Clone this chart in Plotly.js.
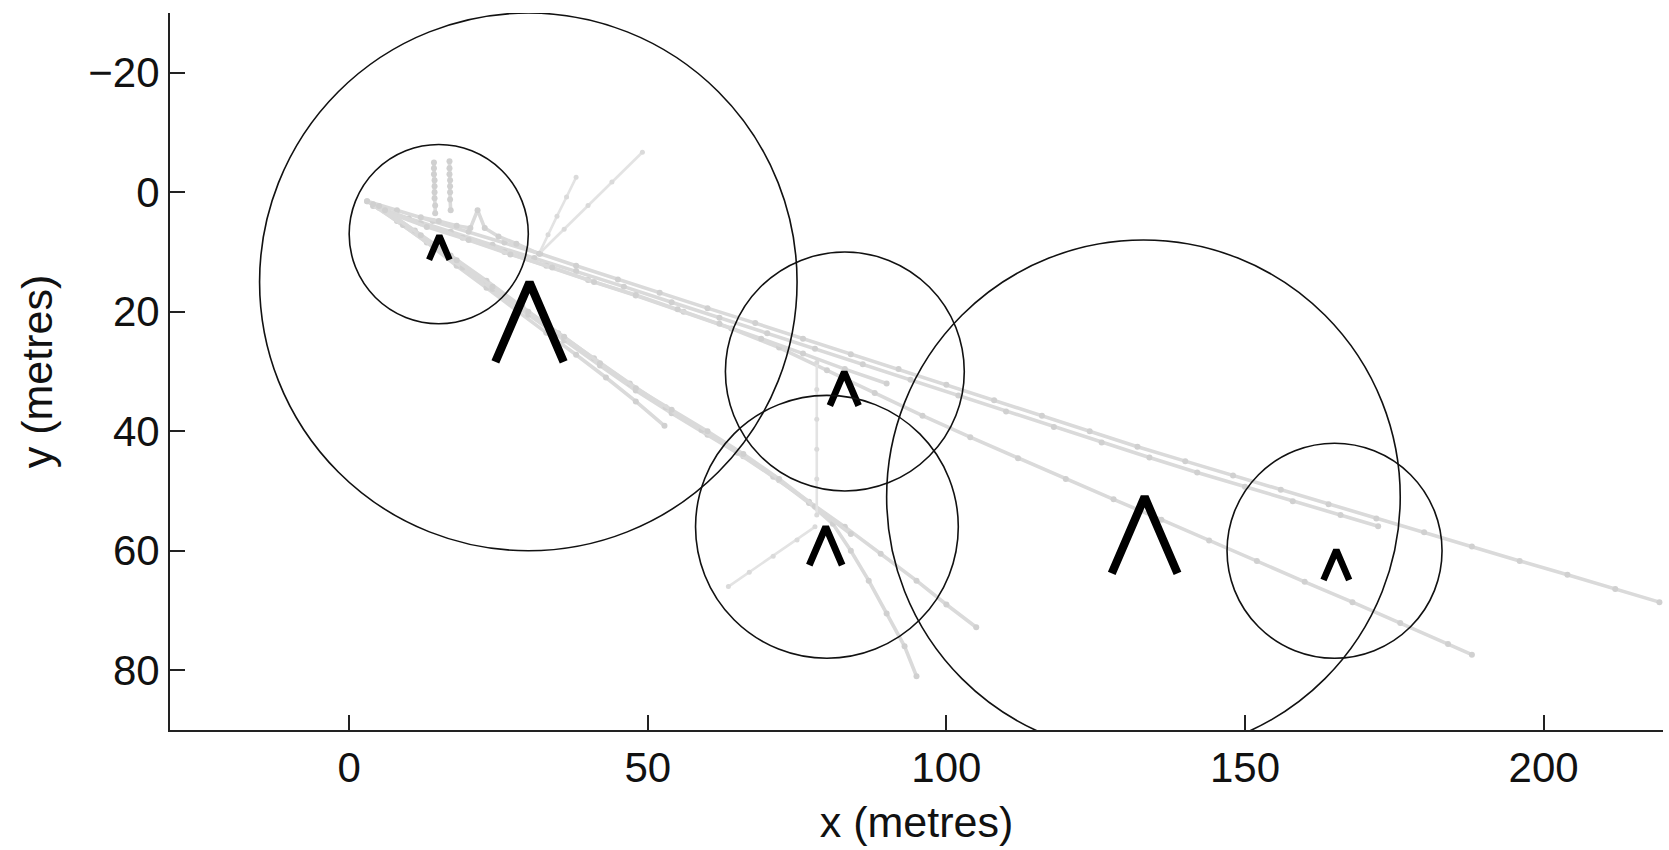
<!DOCTYPE html>
<html>
<head>
<meta charset="utf-8">
<script src="https://cdn.plot.ly/plotly-3.0.1.min.js"></script>
<style>html,body{margin:0;padding:0;background:#fff;}#chart{width:1669px;height:850px;}</style>
</head>
<body>
<div id="chart"></div>
<script>
// ---- axis ticks ----
const xTicks = [0, 50, 100, 150, 200];
const yTicks = [-20, 0, 20, 40, 60, 80];

// ---- circles (centre x, centre y, radius) in metres ----
const circleX = [30, 15, 83, 80, 133, 165];
const circleY = [15, 7, 30, 56, 51, 60];
const circleR = [45, 15, 20, 22, 43, 18];

// ---- caret markers: apex position and height (metres) ----
const caretX = [30.2, 15.1, 82.9, 79.8, 133.2, 165.3];
const caretY = [15.1, 7.3, 30.1, 56.0, 51.0, 59.9];
const caretH = [13.3, 4.0, 5.6, 6.4, 12.8, 5.0];

// ---- grey trajectories (metres) ----
const trackAx = [3, 8, 14, 20, 26, 32, 38, 45, 52, 60, 68, 76, 84, 92, 100, 108, 116, 124, 132, 140, 148, 156, 164, 172, 180, 188, 196, 204, 212, 219.4];
const trackAy = [1.5, 3.0, 4.8, 6.6, 8.4, 10.3, 12.3, 14.6, 16.8, 19.4, 21.9, 24.5, 27.1, 29.6, 32.2, 34.8, 37.4, 40.0, 42.6, 45.0, 47.4, 49.8, 52.2, 54.6, 56.9, 59.3, 61.7, 64.0, 66.4, 68.6];
const trackBx = [4, 10, 17, 24, 31, 38, 46, 54, 62, 70, 78, 86, 94, 102, 110, 118, 126, 134, 142, 150, 158, 166, 172.3];
const trackBy = [2.3, 4.4, 6.6, 8.8, 11.0, 13.2, 15.8, 18.4, 21.0, 23.6, 26.2, 28.8, 31.4, 34.0, 36.7, 39.3, 41.9, 44.4, 46.9, 49.3, 51.7, 54.0, 55.9];
const trackCx = [5, 12, 19, 26, 33, 40, 48, 56, 64, 72, 80, 88, 96, 104, 112, 120, 128, 136, 144, 152, 160, 168, 176, 184, 188];
const trackCy = [2.6, 5.2, 7.6, 10.0, 12.3, 14.7, 17.3, 20.0, 22.8, 26.0, 29.8, 33.6, 37.4, 41.0, 44.5, 48.0, 51.4, 54.8, 58.3, 61.7, 65.2, 68.6, 72.1, 75.6, 77.4];
const trackA2x = [6, 13, 20, 27, 34, 41, 48, 55, 62, 69, 76, 83, 90];
const trackA2y = [3.2, 5.8, 8.0, 10.4, 12.6, 15.0, 17.2, 19.6, 22.0, 24.5, 27.0, 29.6, 32.0];
const trackD1x = [3, 8, 13, 18, 23, 28, 33, 38, 43, 48, 52.8];
const trackD1y = [1.5, 4.8, 8.4, 12.3, 16.0, 19.8, 23.5, 27.2, 31.0, 35.0, 39.1];
const trackD2x = [4, 9, 14, 19, 24, 30, 36, 42, 48, 54, 60, 66, 72, 77, 81, 84, 87, 90, 93, 95];
const trackD2y = [2.0, 5.5, 9.0, 12.6, 16.2, 20.5, 24.8, 29.0, 33.2, 37.0, 40.6, 44.2, 48.2, 52.0, 55.5, 60.0, 65.0, 70.5, 76.0, 81.0];
const trackD3x = [5, 11, 17, 23, 29, 35, 41, 47, 53, 59, 65, 71, 77, 83, 89, 95, 100, 105];
const trackD3y = [2.3, 6.4, 10.6, 14.8, 19.2, 23.6, 27.8, 32.0, 36.0, 39.8, 43.6, 47.6, 51.8, 56.0, 60.5, 65.0, 69.0, 72.8];
const trackD4x = [6, 12, 18, 24, 30, 36, 42, 48, 54, 60, 66, 72, 78, 84];
const trackD4y = [3.0, 7.2, 11.4, 15.8, 20.0, 24.2, 28.6, 32.8, 36.4, 40.0, 43.8, 48.0, 52.6, 57.2];
const trackEx = [63.5, 67, 71, 75, 78];
const trackEy = [66.0, 63.6, 60.9, 58.2, 56.0];
const trackFx = [78.3, 78.3, 78.3, 78.3, 78.3, 78.3];
const trackFy = [28.5, 33, 38, 43, 48, 54];
const trackG1x = [14.2, 14.2, 14.2, 14.3, 14.3, 14.3, 14.3, 14.4, 14.4];
const trackG1y = [-5.0, -4.0, -3.0, -2.0, -1.0, 0.0, 1.0, 2.2, 3.5];
const trackG2x = [16.8, 16.8, 16.8, 16.9, 16.9, 16.9, 16.9, 17.0];
const trackG2y = [-5.2, -4.0, -3.0, -2.0, -1.0, 0.0, 1.2, 3.0];
const trackHx = [31.8, 33.3, 34.8, 36.4, 38];
const trackHy = [10.3, 7.1, 4.0, 0.8, -2.5];
const trackIx = [31.8, 36, 40, 44, 49.1];
const trackIy = [10.3, 6.2, 2.2, -1.7, -6.7];
const trackJx = [12, 15, 18, 20.3, 21.5, 22.7, 25, 28, 31.8];
const trackJy = [4.2, 4.8, 5.6, 6.0, 3.0, 6.0, 7.4, 8.6, 10.3];

const tracks = [
  [trackAx, trackAy, 'main'], [trackBx, trackBy, 'main'], [trackCx, trackCy, 'main'], [trackA2x, trackA2y, 'main'],
  [trackD1x, trackD1y, 'main'], [trackD2x, trackD2y, 'main'], [trackD3x, trackD3y, 'main'], [trackD4x, trackD4y, 'main'],
  [trackEx, trackEy, 'faint'], [trackFx, trackFy, 'faint'],
  [trackG1x, trackG1y, 'main'], [trackG2x, trackG2y, 'main'],
  [trackHx, trackHy, 'faint'], [trackIx, trackIy, 'faint'], [trackJx, trackJy, 'main']
];

const data = [];
tracks.forEach(function (t) {
  const faint = t[2] === 'faint';
  data.push({
    type: 'scatter', mode: 'lines+markers', x: t[0], y: t[1],
    line: {color: faint ? '#e3e3e3' : '#dadada', width: faint ? 2.6 : 3.6},
    marker: {color: faint ? '#dadada' : '#d0d0d0', size: faint ? 5 : 6},
    hoverinfo: 'skip', cliponaxis: true
  });
});

// carets drawn as two strokes meeting at the apex
caretX.forEach(function (cx, i) {
  const h = caretH[i];
  const hw = 0.43 * h;
  data.push({
    type: 'scatter', mode: 'lines',
    x: [cx - hw, cx, cx + hw],
    y: [caretY[i] + h, caretY[i], caretY[i] + h],
    line: {color: '#000', width: 5.5 + 0.22 * h},
    hoverinfo: 'skip'
  });
});

const shapes = circleX.map(function (cx, i) {
  return {
    type: 'circle', xref: 'x', yref: 'y', layer: 'above',
    x0: cx - circleR[i], x1: cx + circleR[i],
    y0: circleY[i] - circleR[i], y1: circleY[i] + circleR[i],
    line: {color: '#111', width: 1.6}, fillcolor: 'rgba(0,0,0,0)'
  };
});

const axisCommon = {
  ticks: 'inside', ticklen: 15, tickwidth: 2, tickcolor: '#222',
  showline: true, linecolor: '#222', linewidth: 2,
  showgrid: false, zeroline: false, mirror: false,
  tickfont: {size: 42, color: '#111'}
};

const layout = {
  width: 1669, height: 850,
  margin: {l: 170, r: 6, t: 13, b: 120},
  paper_bgcolor: '#fff', plot_bgcolor: '#fff',
  showlegend: false,
  font: {family: 'Liberation Sans, Arial, Helvetica, sans-serif', color: '#111'},
  xaxis: Object.assign({}, axisCommon, {
    range: [-30, 220], tickmode: 'array', tickvals: xTicks,
    title: {text: 'x (metres)', font: {size: 43}, standoff: 16}
  }),
  yaxis: Object.assign({}, axisCommon, {
    range: [90, -30], tickmode: 'array', tickvals: yTicks,
    title: {text: 'y (metres)', font: {size: 43}, standoff: 22}
  }),
  shapes: shapes
};

Plotly.newPlot('chart', data, layout, {displayModeBar: false, staticPlot: true});
</script>
</body>
</html>
